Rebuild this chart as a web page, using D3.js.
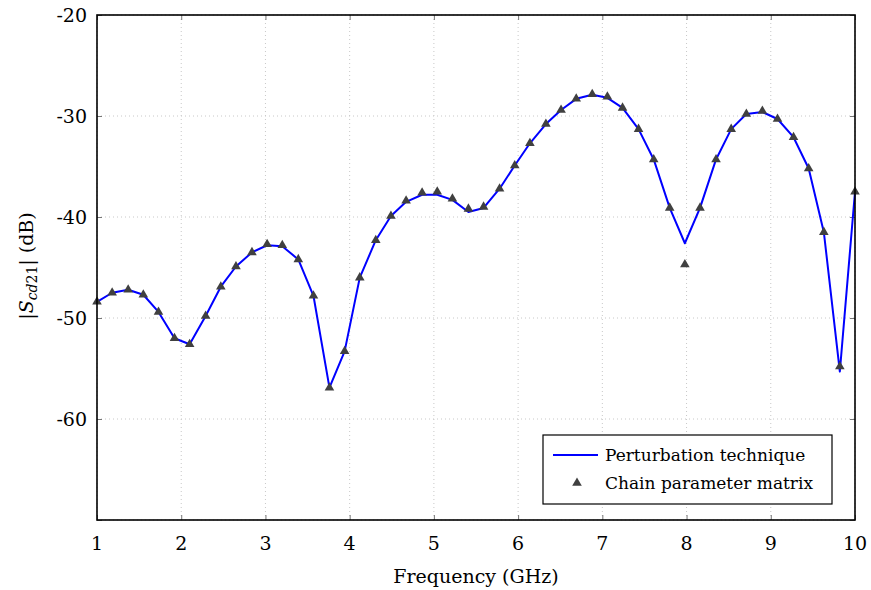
<!DOCTYPE html>
<html>
<head>
<meta charset="utf-8">
<script src="https://cdn.jsdelivr.net/npm/d3@7"></script>
<style>
  body { margin: 0; background: #fff; }
  text { font-family: "DejaVu Serif", serif; }
</style>
</head>
<body>
<div id="chart"></div>
<script>
// frequency points (GHz)
var freq = [1.00, 1.18, 1.37, 1.55, 1.73, 1.92, 2.10, 2.29, 2.47, 2.65,
            2.84, 3.02, 3.20, 3.39, 3.57, 3.76, 3.94, 4.12, 4.31, 4.49,
            4.67, 4.86, 5.04, 5.22, 5.41, 5.59, 5.78, 5.96, 6.14, 6.33,
            6.51, 6.69, 6.88, 7.06, 7.24, 7.43, 7.61, 7.80, 7.98, 8.16,
            8.35, 8.53, 8.71, 8.90, 9.08, 9.27, 9.45, 9.63, 9.82, 10.00];

// chain parameter matrix (triangles)
var chainDb = [-48.4, -47.5, -47.2, -47.7, -49.4, -52.0, -52.6, -49.8, -46.9, -44.9,
               -43.5, -42.7, -42.8, -44.2, -47.8, -56.9, -53.3, -46.0, -42.3, -39.9,
               -38.4, -37.6, -37.5, -38.2, -39.2, -39.0, -37.2, -34.9, -32.7, -30.8,
               -29.4, -28.3, -27.85, -28.1, -29.2, -31.3, -34.3, -39.1, -44.7, -39.1,
               -34.3, -31.3, -29.8, -29.5, -30.3, -32.1, -35.2, -41.5, -54.8, -37.5];

// perturbation technique (line)
var pertDb = [-48.4, -47.5, -47.2, -47.7, -49.4, -52.0, -52.6, -49.8, -46.9, -44.9,
              -43.5, -42.8, -42.9, -44.2, -47.8, -56.9, -53.3, -46.0, -42.3, -39.9,
              -38.5, -37.8, -37.8, -38.3, -39.5, -39.1, -37.2, -34.9, -32.7, -30.8,
              -29.4, -28.3, -27.9, -28.2, -29.2, -31.3, -34.3, -39.1, -42.6, -39.1,
              -34.3, -31.3, -29.8, -29.6, -30.3, -32.1, -35.2, -41.5, -55.3, -37.5];

var xTicks = [1, 2, 3, 4, 5, 6, 7, 8, 9, 10];
var yTicks = [-20, -30, -40, -50, -60, -70];
var yLabels = [-20, -30, -40, -50, -60];

var margin = { top: 15, right: 16, bottom: 70, left: 97 },
    width = 871 - margin.left - margin.right,
    height = 590 - margin.top - margin.bottom;

var svg = d3.select("#chart")
    .append("svg")
    .attr("width", 871)
    .attr("height", 590)
    .append("g")
    .attr("transform", "translate(" + margin.left + "," + margin.top + ")");

var x = d3.scaleLinear().domain([1, 10]).range([0, width]);
var y = d3.scaleLinear().domain([-70, -20]).range([height, 0]);

// grid
svg.append("g").selectAll("line")
    .data(xTicks)
    .enter().append("line")
    .attr("x1", d => x(d)).attr("x2", d => x(d))
    .attr("y1", 0).attr("y2", height)
    .attr("stroke", "#c8c8c8")
    .attr("stroke-dasharray", "1,3");
svg.append("g").selectAll("line")
    .data(yTicks)
    .enter().append("line")
    .attr("y1", d => y(d)).attr("y2", d => y(d))
    .attr("x1", 0).attr("x2", width)
    .attr("stroke", "#c8c8c8")
    .attr("stroke-dasharray", "1,3");

// inner ticks on all sides
function ticks(axis, sel) {
    sel.call(axis).call(g => g.select(".domain").remove())
       .call(g => g.selectAll(".tick line").attr("stroke", "#777"))
       .call(g => g.selectAll(".tick text").remove());
}
svg.append("g").attr("transform", "translate(0," + height + ")")
    .call(g => ticks(d3.axisTop(x).tickValues(xTicks).tickSize(5), g));
svg.append("g")
    .call(g => ticks(d3.axisBottom(x).tickValues(xTicks).tickSize(5), g));
svg.append("g")
    .call(g => ticks(d3.axisRight(y).tickValues(yTicks).tickSize(5), g));
svg.append("g").attr("transform", "translate(" + width + ",0)")
    .call(g => ticks(d3.axisLeft(y).tickValues(yTicks).tickSize(5), g));

// tick labels
svg.append("g").selectAll("text")
    .data(xTicks)
    .enter().append("text")
    .attr("x", d => x(d))
    .attr("y", height + 30)
    .attr("text-anchor", "middle")
    .attr("font-size", "19px")
    .text(d => d);
svg.append("g").selectAll("text")
    .data(yLabels)
    .enter().append("text")
    .attr("x", -10)
    .attr("y", d => y(d) + 7)
    .attr("text-anchor", "end")
    .attr("font-size", "19px")
    .text(d => d);

// line
var line = d3.line()
    .x((d, i) => x(freq[i]))
    .y(d => y(d));
svg.append("path")
    .datum(pertDb)
    .attr("fill", "none")
    .attr("stroke", "#0000ff")
    .attr("stroke-width", 2)
    .attr("stroke-linejoin", "round")
    .attr("d", line);

// triangles
var tri = d3.symbol().type(d3.symbolTriangle).size(40);
svg.append("g").selectAll("path")
    .data(chainDb)
    .enter().append("path")
    .attr("d", tri)
    .attr("transform", (d, i) => "translate(" + x(freq[i]) + "," + y(d) + ")")
    .attr("fill", "#404040");

// frame
svg.append("rect")
    .attr("width", width).attr("height", height)
    .attr("fill", "none")
    .attr("stroke", "#000")
    .attr("stroke-width", 1.6);

// legend
var lg = svg.append("g").attr("transform", "translate(" + (543 - margin.left) + "," + (435 - margin.top) + ")");
lg.append("rect")
    .attr("width", 289).attr("height", 69)
    .attr("fill", "#fff")
    .attr("stroke", "#000")
    .attr("stroke-width", 1.2);
lg.append("line")
    .attr("x1", 10).attr("x2", 55)
    .attr("y1", 20).attr("y2", 20)
    .attr("stroke", "#0000ff")
    .attr("stroke-width", 2);
lg.append("path")
    .attr("d", tri)
    .attr("transform", "translate(34,48)")
    .attr("fill", "#404040");
lg.append("text")
    .attr("x", 62).attr("y", 26)
    .attr("font-size", "17px")
    .text("Perturbation technique");
lg.append("text")
    .attr("x", 62).attr("y", 54)
    .attr("font-size", "17px")
    .text("Chain parameter matrix");

// axis labels
svg.append("text")
    .attr("x", width / 2)
    .attr("y", height + 63)
    .attr("text-anchor", "middle")
    .attr("font-size", "19px")
    .text("Frequency (GHz)");

var yl = svg.append("text")
    .attr("transform", "translate(" + (-64) + "," + (251) + ") rotate(-90)")
    .attr("text-anchor", "middle")
    .attr("font-size", "19px");
yl.append("tspan").text("|");
yl.append("tspan").attr("font-style", "italic").text("S");
yl.append("tspan").attr("font-style", "italic").attr("font-size", "14px").attr("dy", 4).text("cd");
yl.append("tspan").attr("font-size", "14px").text("21");
yl.append("tspan").attr("dy", -4).text("| (dB)");
</script>
</body>
</html>
